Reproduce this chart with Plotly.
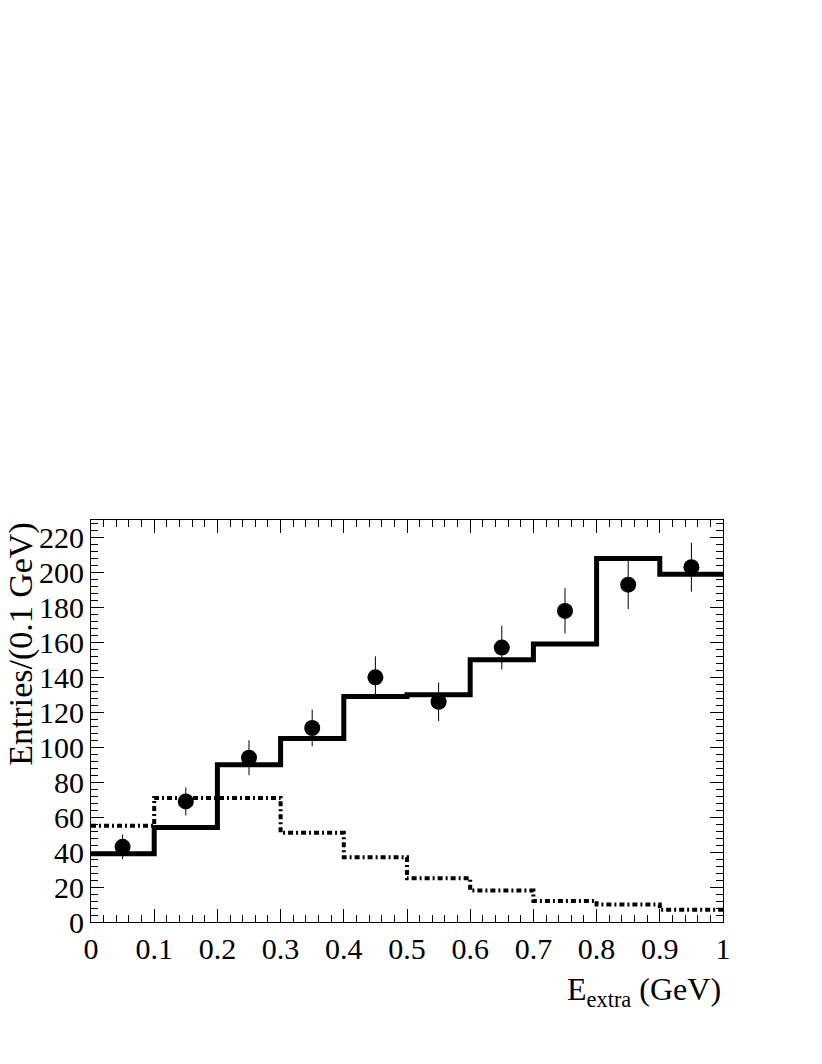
import plotly.graph_objects as go

# bin edges and contents
edges = [0.0, 0.1, 0.2, 0.3, 0.4, 0.5, 0.6, 0.7, 0.8, 0.9, 1.0]
centers = [0.05, 0.15, 0.25, 0.35, 0.45, 0.55, 0.65, 0.75, 0.85, 0.95]
fit_total = [39, 54, 90, 105, 129, 130, 150, 159, 208, 199]
component = [55, 71, 71, 51, 37, 25, 18, 12, 10, 7]
data_vals = [43, 69, 94, 111, 140, 126, 157, 178, 193, 203]
data_errs = [7, 8, 10, 10.5, 12, 11, 12.5, 13, 14, 14]
x_tickvals = [0, 0.1, 0.2, 0.3, 0.4, 0.5, 0.6, 0.7, 0.8, 0.9, 1]
x_ticktext = ["0", "0.1", "0.2", "0.3", "0.4", "0.5", "0.6", "0.7", "0.8", "0.9", "1"]

FONT = "Liberation Serif"

fig = go.Figure()

fig.add_trace(go.Scatter(
    x=edges, y=component + [component[-1]], mode="lines", line_shape="hv",
    line=dict(color="black", width=4, dash="5px,3px,2px,3px"), hoverinfo="skip"))

fig.add_trace(go.Scatter(
    x=edges, y=fit_total + [fit_total[-1]], mode="lines", line_shape="hv",
    line=dict(color="black", width=5), hoverinfo="skip"))

fig.add_trace(go.Scatter(
    x=centers, y=data_vals, mode="markers",
    marker=dict(color="black", size=16, symbol="circle"),
    error_y=dict(type="data", array=data_errs, color="black", thickness=1, width=0)))

axis_common = dict(
    showgrid=False, zeroline=False, showline=True, linecolor="black", linewidth=1,
    mirror="allticks", ticks="inside", tickcolor="black", tickwidth=1,
    tickfont=dict(family=FONT, size=30, color="black"),
)

fig.update_xaxes(range=[0, 1], ticklen=13,
                 tickvals=x_tickvals, ticktext=x_ticktext,
                 minor=dict(dtick=0.02, tick0=0, ticklen=7, ticks="inside", tickcolor="black", showgrid=False),
                 **axis_common)
fig.update_yaxes(range=[0, 230], tick0=0, dtick=20, ticklen=13,
                 minor=dict(dtick=4, tick0=0, ticklen=7, ticks="inside", tickcolor="black", showgrid=False),
                 **axis_common)

fig.update_layout(
    width=822, height=1064,
    margin=dict(l=83, r=107, t=512, b=150),
    plot_bgcolor="white", paper_bgcolor="white",
    showlegend=False,
    font=dict(family=FONT, color="black"),
    annotations=[
        dict(text="Entries/(0.1 GeV)", textangle=-90, xref="paper", yref="paper",
             x=-0.111, y=1.0, xanchor="center", yanchor="top", showarrow=False,
             font=dict(family=FONT, size=34, color="black")),
        dict(text="E<sub>extra</sub> (GeV)", xref="paper", yref="paper",
             x=1.0, y=-0.172, xanchor="right", yanchor="middle", showarrow=False,
             font=dict(family=FONT, size=32, color="black")),
    ],
)

fig.write_html("out.html")
